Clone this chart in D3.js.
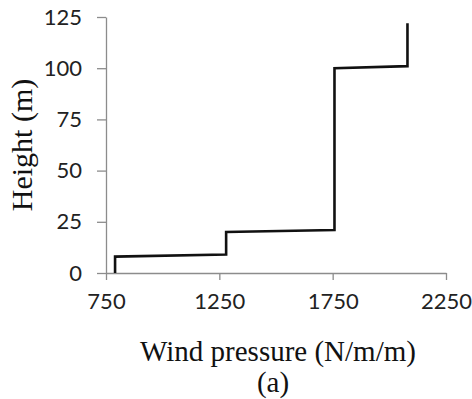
<!DOCTYPE html>
<html>
<head>
<meta charset="utf-8">
<script src="https://cdn.jsdelivr.net/npm/d3@7"></script>
<style>
  body { margin: 0; background: #fff; }
  svg { display: block; }
</style>
</head>
<body>
<div id="chart"></div>
<script>
// wind pressure profile, step line
var width = 472;
var height = 399;

var pressure = [790, 790, 1280, 1280, 1758, 1758, 2080, 2080];
var heightM = [0, 8, 9, 20, 21, 100, 101, 122];
var xTicks = [750, 1250, 1750, 2250];
var yTicks = [0, 25, 50, 75, 100, 125];

var data = pressure.map((p, i) => ({x: p, y: heightM[i]}));

var x = d3.scaleLinear().domain([750, 2250]).range([106, 446]);
var y = d3.scaleLinear().domain([0, 125]).range([273, 17]);

var svg = d3.select('#chart').append('svg')
  .attr('width', width)
  .attr('height', height);

// x axis
var xAxis = svg.append('g')
  .attr('transform', `translate(0, ${y(0)})`)
  .call(d3.axisBottom(x).tickValues(xTicks).tickFormat(d3.format('d'))
    .tickSizeInner(7).tickSizeOuter(0).tickPadding(13));

// y axis
var yAxis = svg.append('g')
  .attr('transform', `translate(${x(750)}, 0)`)
  .call(d3.axisLeft(y).tickValues(yTicks).tickFormat(d3.format('d'))
    .tickSizeInner(9).tickSizeOuter(0).tickPadding(15));

[xAxis, yAxis].forEach(a => {
  a.select('.domain').attr('stroke', '#8c8c8c').attr('stroke-width', 1.3);
  a.selectAll('.tick line').attr('stroke', '#8c8c8c').attr('stroke-width', 1.3);
  a.selectAll('.tick text')
    .attr('fill', '#222')
    .style('font-family', 'Lato, "Open Sans", sans-serif')
    .style('font-size', '22px');
});

var line = d3.line().x(d => x(d.x)).y(d => y(d.y));

svg.append('path')
  .datum(data)
  .attr('fill', 'none')
  .attr('stroke', '#111')
  .attr('stroke-width', 2.6)
  .attr('d', line);

var serif = '"Liberation Serif", "Times New Roman", serif';

svg.append('text')
  .attr('x', 278)
  .attr('y', 361)
  .attr('text-anchor', 'middle')
  .style('font-family', serif)
  .style('font-size', '29px')
  .attr('fill', '#111')
  .text('Wind pressure (N/m/m)');

svg.append('text')
  .attr('x', 273)
  .attr('y', 392)
  .attr('text-anchor', 'middle')
  .style('font-family', serif)
  .style('font-size', '29px')
  .attr('fill', '#111')
  .text('(a)');

svg.append('text')
  .attr('transform', 'translate(32, 145) rotate(-90)')
  .attr('text-anchor', 'middle')
  .style('font-family', serif)
  .style('font-size', '30px')
  .attr('fill', '#111')
  .text('Height (m)');
</script>
</body>
</html>
